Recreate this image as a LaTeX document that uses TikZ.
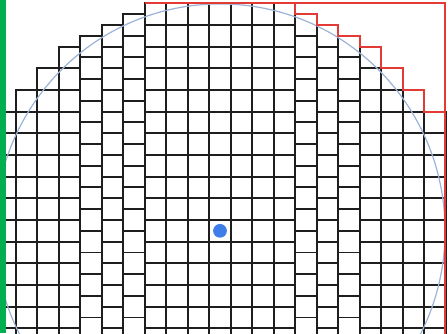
\documentclass[tikz,border=0pt]{standalone}
\usepackage{tikz}
\definecolor{diegrid}{HTML}{1E1E1E}
\definecolor{edgered}{HTML}{E23B35}
\definecolor{waferblue}{HTML}{9DB3D8}
\definecolor{dotblue}{HTML}{3F7EE8}
\definecolor{bargreen}{HTML}{00B050}

\begin{document}
\begin{tikzpicture}[
  x=5mm, y=5.04mm,
  die/.style={draw=diegrid, line width=1.3pt},
  wafer/.style={draw=waferblue, line width=0.8pt},
  quadrant/.style={draw=edgered, line width=1.3pt, line join=miter},
  markdot/.style={circle, fill=dotblue, inner sep=0pt, minimum size=3.2mm}
]
  \useasboundingbox (-10.233,-4.716) rectangle (10.605,10.651);
  \clip (-10.233,-4.716) rectangle (10.605,10.651);
  \fill[white] (-10.233,-4.716) rectangle (10.605,10.651);

  % die columns: centre x / top edge
  \foreach \c/\t in {-10/5.5, -9/6.5, -8/7.5, -7/8.5, -6/9, -5/9.5, -4/10,
                     -3/10.5, -2/10.5, -1/10.5, 0/10.5, 1/10.5, 2/10.5, 3/10.5,
                     4/10, 5/9.5, 6/9, 7/8.5, 8/7.5, 9/6.5, 10/5.5} {
    \foreach \r in {0,...,16}
      \draw[die] ({\c-0.5},{\t-\r-1}) rectangle ({\c+0.5},{\t-\r});
  }

  \draw[wafer] (0,0) circle (10.47);

  % upper right quadrant
  \draw[quadrant] (-3.5,10.5) -- (10.45,10.5) -- (10.45,-6);
  \draw[quadrant] (3.5,10.5) -- (3.5,10) -- (4.5,10) -- (4.5,9.5) -- (5.5,9.5)
    -- (5.5,9) -- (6.5,9) -- (6.5,8.5) -- (7.5,8.5) -- (7.5,7.5) -- (8.5,7.5)
    -- (8.5,6.5) -- (9.5,6.5) -- (9.5,5.5) -- (10.45,5.5);

  \node[markdot] (centre) at (0,0) {};

  \fill[bargreen] (-10.233,-4.716) rectangle (-9.954,10.651);
\end{tikzpicture}
\end{document}
